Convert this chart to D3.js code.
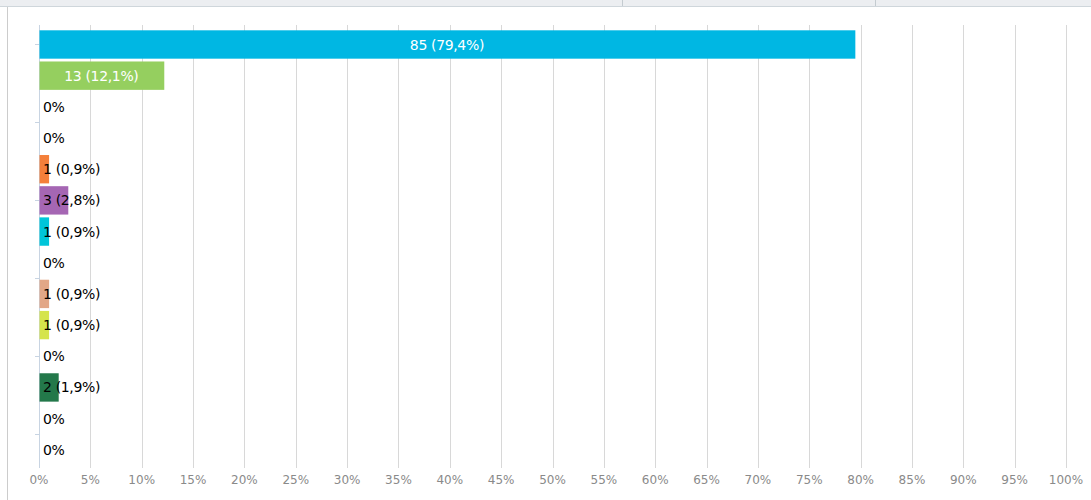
<!DOCTYPE html>
<html>
<head>
<meta charset="utf-8">
<script src="https://cdn.jsdelivr.net/npm/d3@7"></script>
<style>
  body { margin: 0; background: #fff; }
  svg { display: block; font-family: "DejaVu Sans", sans-serif; }
</style>
</head>
<body>
<div id="chart"></div>
<script>
// antworten pro kategorie (gesamt 107)
var categories = ["A1", "A2", "A3", "A4", "A5", "A6", "A7", "A8", "A9", "A10", "A11", "A12", "A13", "A14"];
var counts = [85, 13, 0, 0, 1, 3, 1, 0, 1, 1, 0, 2, 0, 0];
var colors = ["#00b7e3", "#95cf5f", "#f2c744", "#6d8fd0", "#f47f3a", "#a566b3", "#00c5d9", "#a0a0a0",
              "#e2a787", "#d5e44b", "#8888cc", "#23784a", "#cc6677", "#999999"];
var xTicks = d3.range(0, 101, 5);
var total = d3.sum(counts);

var width = 1091, height = 500;
var margin = {top: 25, left: 39, right: 25, bottom: 35};

var svg = d3.select("#chart").append("svg")
    .attr("width", width).attr("height", height);

// kopfzeile oben
svg.append("rect").attr("x", 0).attr("y", 0).attr("width", width).attr("height", 6).attr("fill", "#eceef1");
svg.append("line").attr("x1", 0).attr("x2", width).attr("y1", 6.5).attr("y2", 6.5).attr("stroke", "#cfd6db");
[622, 875].forEach(function (x) {
    svg.append("line").attr("x1", x + 0.5).attr("x2", x + 0.5).attr("y1", 0).attr("y2", 6)
        .attr("stroke", "#c4cbd0");
});
svg.append("line").attr("x1", 7.5).attr("x2", 7.5).attr("y1", 7).attr("y2", height).attr("stroke", "#cccccc");

var x = d3.scaleLinear().domain([0, 100]).range([margin.left, 1066]);
var y = d3.scaleBand().domain(categories).range([27.5, 466.8]).padding(0.09);
var yIdx = d3.scaleLinear().domain([0, 1]).range([y(categories[0]) + y.bandwidth() / 2, y(categories[1]) + y.bandwidth() / 2]);

// gitterlinien
svg.append("g").selectAll("line").data(xTicks.slice(1)).enter().append("line")
    .attr("x1", function (d) { return Math.round(x(d)) + 0.5; })
    .attr("x2", function (d) { return Math.round(x(d)) + 0.5; })
    .attr("y1", margin.top).attr("y2", 468)
    .attr("stroke", "#d8d8d8");

// achse links
svg.append("line").attr("x1", margin.left + 0.5).attr("x2", margin.left + 0.5)
    .attr("y1", margin.top).attr("y2", 468).attr("stroke", "#c8d4e2");
svg.append("g").selectAll("line").data([0, 2.5, 5, 7.5, 10, 12.5]).enter().append("line")
    .attr("x1", margin.left - 4).attr("x2", margin.left)
    .attr("y1", function (d) { return Math.round(yIdx(d)) + 0.5; })
    .attr("y2", function (d) { return Math.round(yIdx(d)) + 0.5; })
    .attr("stroke", "#c8d4e2");

// x achse beschriftung
svg.append("g").selectAll("text").data(xTicks).enter().append("text")
    .attr("x", function (d) { return x(d); })
    .attr("y", 484)
    .attr("text-anchor", "middle")
    .attr("font-size", 12)
    .attr("fill", "#8a8a8a")
    .text(function (d) { return d + "%"; });

function pct(v) {
    return (v / total * 100).toFixed(1).replace(".", ",");
}

var rows = svg.append("g").selectAll("g").data(counts).enter().append("g");

rows.append("rect")
    .attr("x", margin.left + 0.5)
    .attr("y", function (d, i) { return y(categories[i]); })
    .attr("width", function (d) { return Math.max(0, x(d / total * 100) - x(0)); })
    .attr("height", y.bandwidth())
    .attr("fill", function (d, i) { return colors[i]; });

rows.append("text")
    .attr("x", function (d) {
        var w = x(d / total * 100) - x(0);
        return w > 80 ? margin.left + w / 2 : margin.left + 4;
    })
    .attr("y", function (d, i) { return y(categories[i]) + y.bandwidth() / 2; })
    .attr("dy", "0.36em")
    .attr("text-anchor", function (d) { return x(d / total * 100) - x(0) > 80 ? "middle" : "start"; })
    .attr("font-size", 14)
    .attr("letter-spacing", "-0.35px")
    .attr("fill", function (d) { return x(d / total * 100) - x(0) > 80 ? "#ffffff" : "#000000"; })
    .text(function (d) { return d === 0 ? "0%" : d + " (" + pct(d) + "%)"; });
</script>
</body>
</html>
